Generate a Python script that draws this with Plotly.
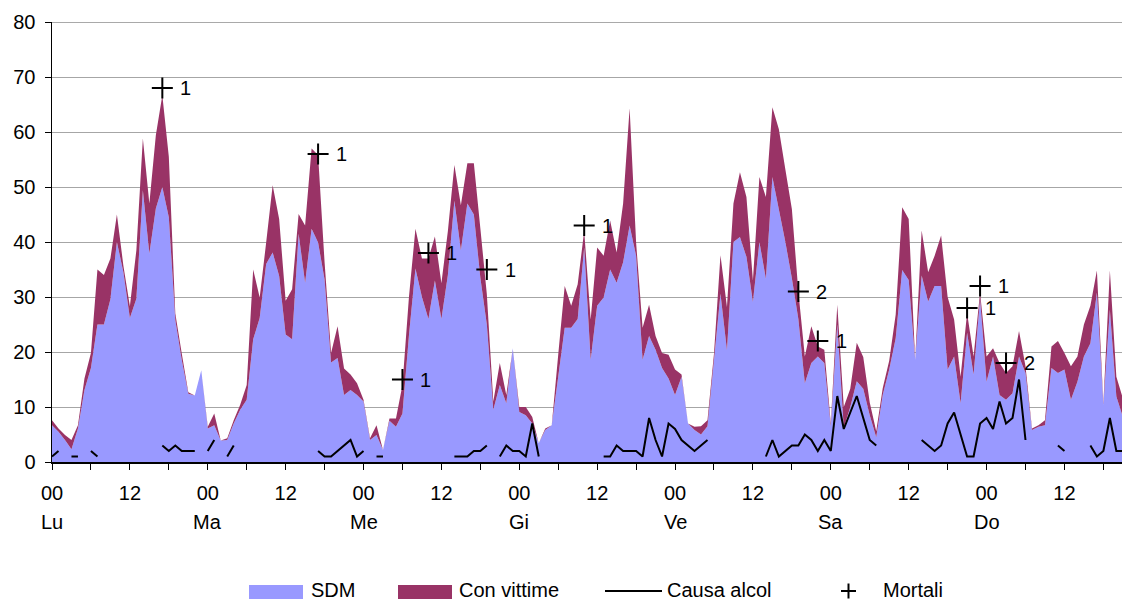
import plotly.graph_objects as go

# ---------------- data ----------------
HOURS = list(range(166))  # hour of the week, 0 = Monday 00

SDM = [
    6.7, 5.5, 4.0, 2.3, 6.1, 13.1, 17.1, 25.0, 25.0, 29.6, 40.0, 34.5,
    26.2, 29.7, 49.4, 37.9, 46.1, 50.0, 44.5, 25.8, 18.5, 12.4, 12.1, 16.7,
    6.1, 6.7, 3.9, 4.0, 7.0, 9.5, 11.3, 22.3, 26.2, 36.0, 38.1, 33.8,
    23.2, 22.3, 41.5, 32.6, 42.4, 39.9, 33.2, 18.1, 18.9, 12.2, 13.1, 12.2,
    11.0, 4.0, 4.9, 2.2, 7.5, 6.4, 8.8, 23.0, 35.2, 30.0, 26.0, 33.0,
    26.0, 34.0, 47.5, 38.5, 47.0, 45.0, 33.5, 25.0, 9.5, 14.0, 10.7, 20.7,
    9.1, 8.5, 7.0, 3.4, 5.8, 6.7, 15.5, 24.4, 24.4, 26.0, 39.0, 18.6,
    28.4, 29.9, 35.0, 32.6, 36.3, 43.0, 37.5, 18.6, 22.9, 20.4, 17.1, 15.2,
    12.2, 15.5, 7.0, 5.8, 5.0, 6.5, 18.5, 30.6, 20.3, 40.0, 40.9, 37.3,
    29.1, 40.0, 33.3, 51.8, 45.9, 40.0, 33.4, 26.0, 14.3, 18.0, 19.2, 18.0,
    6.5, 25.0, 6.2, 10.0, 14.7, 13.3, 8.5, 4.5, 12.2, 16.8, 22.5, 34.9,
    33.1, 18.6, 33.9, 29.2, 32.0, 32.0, 16.8, 19.2, 10.7, 23.5, 15.9, 29.6,
    14.6, 19.2, 12.2, 11.3, 12.5, 19.2, 16.2, 5.8, 6.4, 6.7, 17.1, 16.2,
    16.8, 11.3, 14.6, 19.2, 21.6, 30.8, 10.4, 27.7, 11.9, 8.2,
]

CON_VITTIME = [
    0.9, 0.6, 0.9, 1.7, 0.6, 2.1, 2.7, 10.0, 9.0, 7.4, 5.0, 1.2,
    2.1, 8.8, 9.4, 9.1, 13.3, 16.7, 11.0, 1.2, 1.2, 0.3, 0.0, 0.0,
    0.3, 2.1, 0.0, 0.3, 0.6, 0.9, 2.7, 12.7, 3.7, 3.9, 12.2, 10.4,
    6.1, 9.1, 3.6, 10.4, 14.6, 15.9, 3.1, 1.7, 5.8, 4.8, 2.8, 2.1,
    0.3, 0.3, 1.8, 0.0, 0.4, 1.5, 5.2, 7.0, 7.2, 7.0, 11.0, 8.0,
    6.5, 8.0, 6.5, 8.2, 7.3, 9.3, 9.0, 5.5, 1.5, 4.0, 1.5, 0.0,
    0.9, 1.5, 1.2, 0.0, 0.3, 0.0, 4.0, 7.6, 4.0, 6.3, 3.0, 7.3,
    10.6, 7.6, 8.9, 5.5, 10.7, 21.3, 2.4, 5.8, 5.7, 2.5, 2.7, 4.3,
    4.6, 0.4, 0.0, 0.6, 1.5, 1.1, 1.2, 7.0, 7.9, 7.0, 11.8, 10.9,
    3.9, 11.8, 14.9, 12.7, 14.6, 13.2, 12.6, 5.0, 4.9, 6.7, 1.8, 2.4,
    0.5, 3.6, 3.8, 3.3, 7.0, 5.8, 2.3, 1.1, 1.2, 1.6, 4.3, 11.4,
    11.1, 0.0, 8.2, 5.3, 5.5, 9.2, 13.2, 6.7, 4.8, 3.6, 3.3, 1.2,
    4.6, 1.5, 5.8, 4.9, 4.9, 4.6, 1.2, 0.3, 0.3, 0.9, 3.9, 5.8,
    3.0, 6.1, 4.6, 5.8, 6.8, 4.0, 0.3, 7.1, 3.6, 3.4,
]

N = None
CAUSA_ALCOL = [
    1, 2, N, 1, 1, N, 2, 1, N, N, N, N,
    N, N, N, N, N, 3, 2, 3, 2, 2, 2, N,
    2, 4, N, 1, 3, N, N, N, N, N, N, N,
    N, N, N, N, N, 2, 1, 1, 2, 3, 4, 1,
    2, N, 1, 1, N, N, N, N, N, N, N, N,
    N, N, 1, 1, 1, 2, 2, 3, N, 1, 3, 2,
    2, 1, 7, 1, N, N, N, N, N, N, N, N,
    N, 1, 1, 3, 2, 2, 2, 1, 8, 4, 1, 7,
    6, 4, 3, 2, 3, 4, N, N, N, N, N, N,
    N, N, 1, 4, 1, 2, 3, 3, 5, 4, 2, 4,
    2, 12, 6, 9, 12, 8, 4, 3, N, N, N, N,
    N, N, 4, 3, 2, 3, 7, 9, 5, 1, 1, 7,
    8, 6, 11, 7, 8, 15, 4, N, N, N, N, 3,
    2, N, N, N, 3, 1, 2, 8, 2, 2,
]

MORTALI_HOURS = [17, 41, 54, 58, 67, 82, 115, 118, 141, 143, 147]
MORTALI_Y = [68, 56, 15, 38, 35, 43, 31, 22, 28, 32, 18]
MORTALI_LABELS = ["1", "1", "1", "1", "1", "1", "2", "1", "1", "1", "2"]

TICK_HOURS = [0, 12, 24, 36, 48, 60, 72, 84, 96, 108, 120, 132, 144, 156]
TICK_LABELS = ["00", "12"] * 7
DAY_HOURS = [0, 24, 48, 72, 96, 120, 144]
DAY_LABELS = ["Lu", "Ma", "Me", "Gi", "Ve", "Sa", "Do"]

SERIES_NAMES = ["SDM", "Con vittime", "Causa alcol", "Mortali"]

# ---------------- layout geometry ----------------
W, H = 1122, 600
L, R, T, B = 52, 0, 22, 138
PX_PER_HOUR = 6.49
X_MAX = (W - L - R) / PX_PER_HOUR
PLOT_W = W - L - R
PLOT_H = H - T - B

FONT = "Arial, 'Liberation Sans', sans-serif"
FS = 20
C_SDM = "#9999FF"
C_CV = "#993366"


def px_x(p):
    return (p - L) / PLOT_W


def px_y(p):
    return (H - B - p) / PLOT_H


fig = go.Figure()

fig.add_trace(go.Scatter(
    x=HOURS, y=SDM, name=SERIES_NAMES[0], stackgroup="acc", mode="none",
    fillcolor=C_SDM, showlegend=False))
fig.add_trace(go.Scatter(
    x=HOURS, y=CON_VITTIME, name=SERIES_NAMES[1], stackgroup="acc", mode="none",
    fillcolor=C_CV, showlegend=False))
fig.add_trace(go.Scatter(
    x=HOURS, y=CAUSA_ALCOL, name=SERIES_NAMES[2], mode="lines",
    line=dict(color="black", width=2), connectgaps=False, showlegend=False))
fig.add_trace(go.Scatter(
    x=MORTALI_HOURS, y=MORTALI_Y, name=SERIES_NAMES[3], mode="markers",
    marker=dict(symbol="cross-thin", size=15, color="black",
                line=dict(color="black", width=2)),
    showlegend=False))

annotations = []
# labels of the fatal accidents
for h, v, lab in zip(MORTALI_HOURS, MORTALI_Y, MORTALI_LABELS):
    annotations.append(dict(
        x=h, y=v, xref="x", yref="y", text=lab, showarrow=False,
        xanchor="left", yanchor="middle", xshift=16,
        font=dict(family=FONT, size=FS, color="black")))

# day names under the hour labels
for h, lab in zip(DAY_HOURS, DAY_LABELS):
    annotations.append(dict(
        x=h, y=px_y(522), xref="x", yref="paper", text=lab, showarrow=False,
        xanchor="center", yanchor="middle",
        font=dict(family=FONT, size=FS, color="black")))

# manual legend
shapes = []
LEG_Y = 591
box_specs = [(249, 303, C_SDM), (398, 452, C_CV)]
for x0, x1, col in box_specs:
    shapes.append(dict(type="rect", xref="paper", yref="paper",
                       x0=px_x(x0), x1=px_x(x1), y0=px_y(599), y1=px_y(585),
                       fillcolor=col, line=dict(width=0), layer="above"))
shapes.append(dict(type="line", xref="paper", yref="paper",
                   x0=px_x(605), x1=px_x(662), y0=px_y(LEG_Y), y1=px_y(LEG_Y),
                   line=dict(color="black", width=2), layer="above"))
shapes.append(dict(type="line", xref="paper", yref="paper",
                   x0=px_x(841), x1=px_x(856), y0=px_y(LEG_Y), y1=px_y(LEG_Y),
                   line=dict(color="black", width=2), layer="above"))
shapes.append(dict(type="line", xref="paper", yref="paper",
                   x0=px_x(848.5), x1=px_x(848.5), y0=px_y(LEG_Y - 7.5),
                   y1=px_y(LEG_Y + 7.5),
                   line=dict(color="black", width=2), layer="above"))
# slightly darker top gridline (80)
shapes.append(dict(type="line", xref="paper", yref="y", x0=0, x1=1, y0=80, y1=80,
                   line=dict(color="#8C8C8C", width=1.5), layer="below"))

legend_text_x = [309, 457, 665, 881]
for name, xp in zip(SERIES_NAMES, legend_text_x):
    annotations.append(dict(
        x=px_x(xp), y=px_y(590), xref="paper", yref="paper", text=name,
        showarrow=False, xanchor="left", yanchor="middle",
        font=dict(family=FONT, size=FS, color="black")))

fig.update_layout(
    width=W, height=H,
    margin=dict(l=L, r=R, t=T, b=B, autoexpand=False),
    paper_bgcolor="white", plot_bgcolor="white",
    font=dict(family=FONT, size=FS, color="black"),
    showlegend=False,
    annotations=annotations,
    shapes=shapes,
    hovermode=False,
)

fig.update_xaxes(
    range=[0, X_MAX], tickmode="array", tickvals=TICK_HOURS, ticktext=TICK_LABELS,
    ticks="outside", ticklen=6, tickwidth=1, tickcolor="black",
    ticklabelstandoff=6,
    minor=dict(dtick=6, tick0=0, ticks="outside", ticklen=6, tickcolor="black",
               tickwidth=1, showgrid=False),
    showline=True, linecolor="black", linewidth=1.5,
    showgrid=False, zeroline=False, automargin=False,
    tickfont=dict(family=FONT, size=FS, color="black"),
)
fig.update_yaxes(
    range=[0, 80], dtick=10, tick0=0,
    ticks="outside", ticklen=6, tickwidth=1, tickcolor="black",
    ticklabelstandoff=5,
    showline=True, linecolor="black", linewidth=1.5,
    showgrid=True, gridcolor="#A6A6A6", gridwidth=1,
    zeroline=False, automargin=False,
    tickfont=dict(family=FONT, size=FS, color="black"),
)

fig.write_html(
    "out.html",
    config={"displayModeBar": False, "staticPlot": True},
    post_script="document.body.style.margin='0';document.body.style.overflow='hidden';",
)
